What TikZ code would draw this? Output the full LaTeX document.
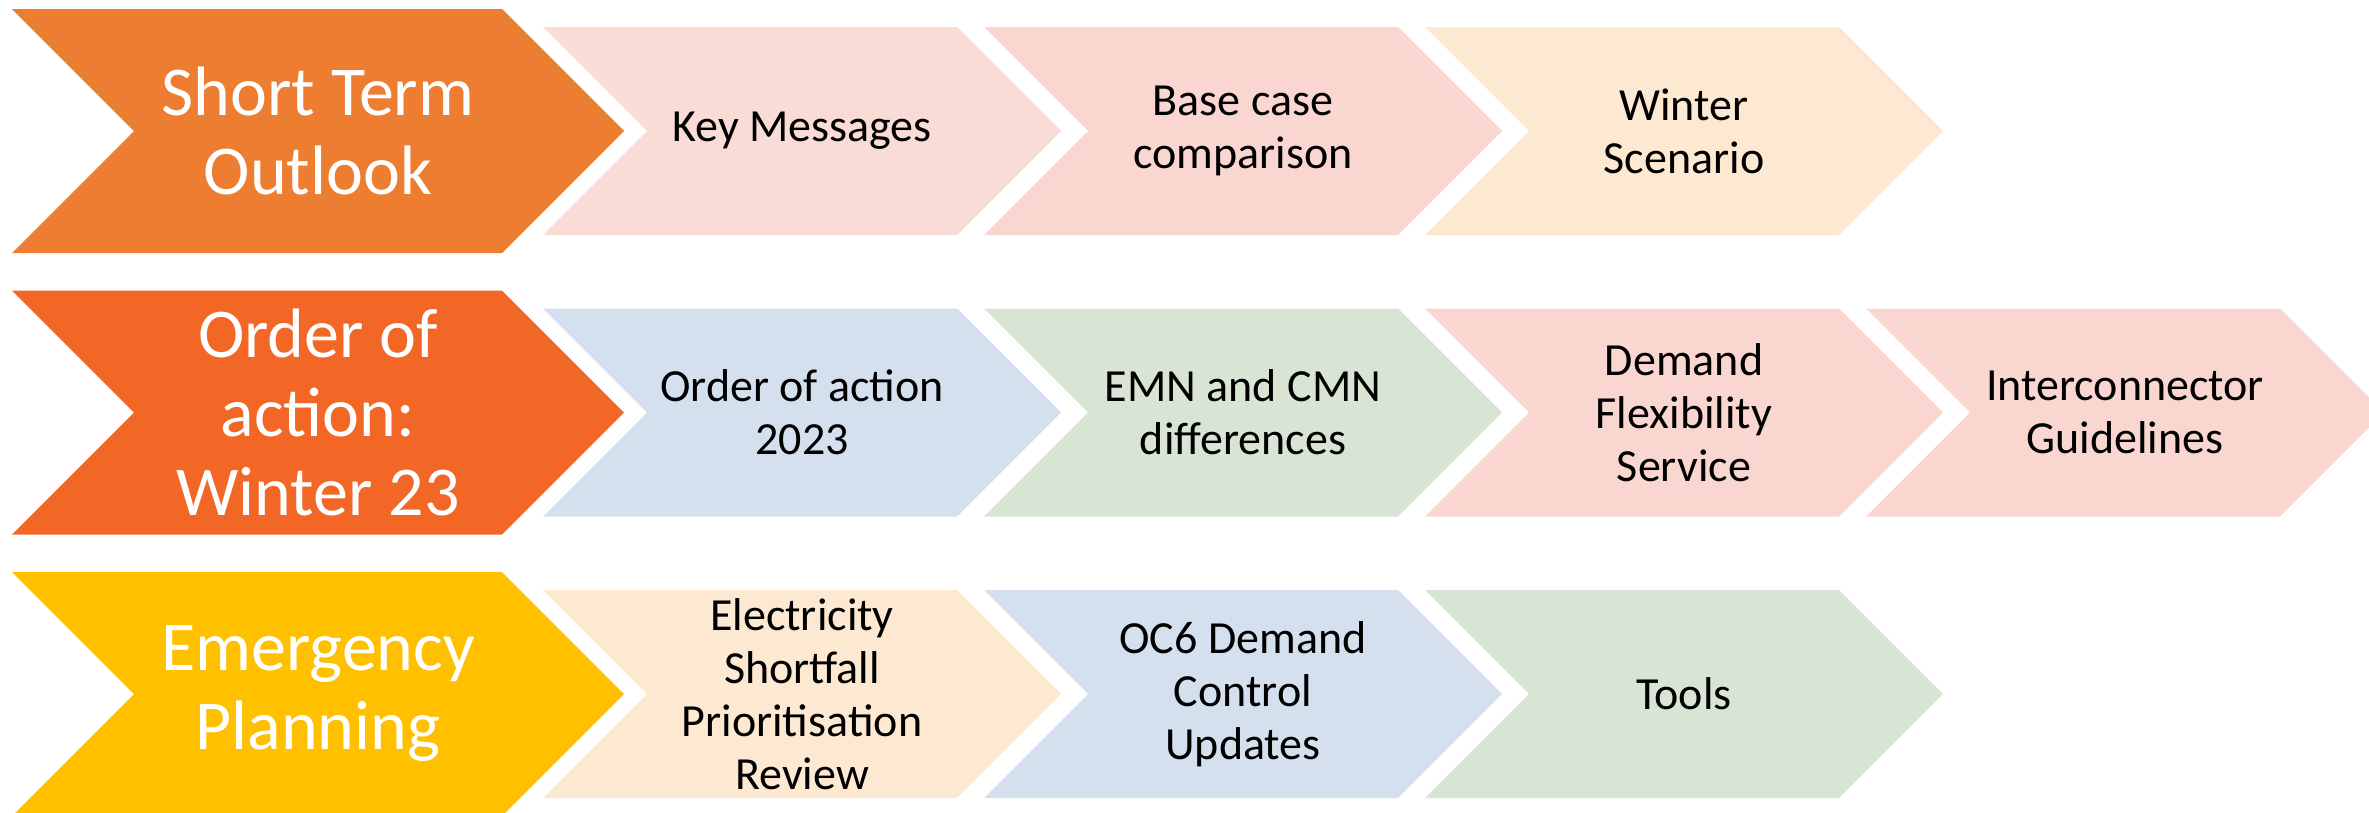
\documentclass[tikz,border=0pt]{standalone}
\usepackage{fontspec}
\setmainfont{Carlito}
\definecolor{cA}{HTML}{ED7D31}
\definecolor{cB}{HTML}{F36726}
\definecolor{cC}{HTML}{FFC000}
\definecolor{lPink}{HTML}{F8DCD5}
\definecolor{lPinkB}{HTML}{F9D6D0}
\definecolor{lPeach}{HTML}{FDE9D1}
\definecolor{lBlue}{HTML}{D5E0EE}
\definecolor{lGreen}{HTML}{D9E5D4}
\tikzset{
  bigtext/.style={text=white, align=center, inner sep=0pt, font=\fontsize{70}{79}\selectfont},
  smalltext/.style={text=black, align=center, inner sep=0pt, font=\fontsize{46}{53}\selectfont}
}
% name, center y, colour, text
\newcommand{\mychevB}[4]{%
  \fill[#3] (12,#2-122) -- (502,#2-122) -- (624,#2) -- (502,#2+122) -- (12,#2+122) -- (134,#2) -- cycle;
  \node[bigtext] (#1) at (318,#2) {#4};}
% name, left x, center y, colour, text
\newcommand{\mychevS}[5]{%
  \fill[#4] (#2,#3-104) -- (#2+414,#3-104) -- (#2+518,#3) -- (#2+414,#3+104) -- (#2,#3+104) -- (#2+104,#3) -- cycle;
  \node[smalltext] (#1) at (#2+259,#3) {#5};}
\begin{document}
\begin{tikzpicture}[x=1pt,y=-1pt]
\useasboundingbox (0,0) rectangle (2369,812);
\clip (0,0) rectangle (2369,812);
% row 1
\mychevB{sto}{131}{cA}{Short Term\\Outlook}
\mychevS{km}{543}{131}{lPink}{Key Messages}
\mychevS{bcc}{984}{131}{lPinkB}{Base case\\comparison}
\mychevS{ws}{1425}{131}{lPeach}{Winter\\Scenario}
% row 2
\mychevB{ooa}{412.5}{cB}{Order of\\action:\\Winter 23}
\mychevS{oa}{543}{412.5}{lBlue}{Order of action\\2023}
\mychevS{emn}{984}{412.5}{lGreen}{EMN and CMN\\differences}
\mychevS{dfs}{1425}{412.5}{lPinkB}{Demand\\Flexibility\\Service}
\mychevS{icg}{1866}{412.5}{lPinkB}{Interconnector\\Guidelines}
% row 3
\mychevB{ep}{694}{cC}{Emergency\\Planning}
\mychevS{esp}{543}{694}{lPeach}{Electricity\\Shortfall\\Prioritisation\\Review}
\mychevS{oc6}{984}{694}{lBlue}{OC6 Demand\\Control\\Updates}
\mychevS{tools}{1425}{694}{lGreen}{Tools}
\end{tikzpicture}
\end{document}
